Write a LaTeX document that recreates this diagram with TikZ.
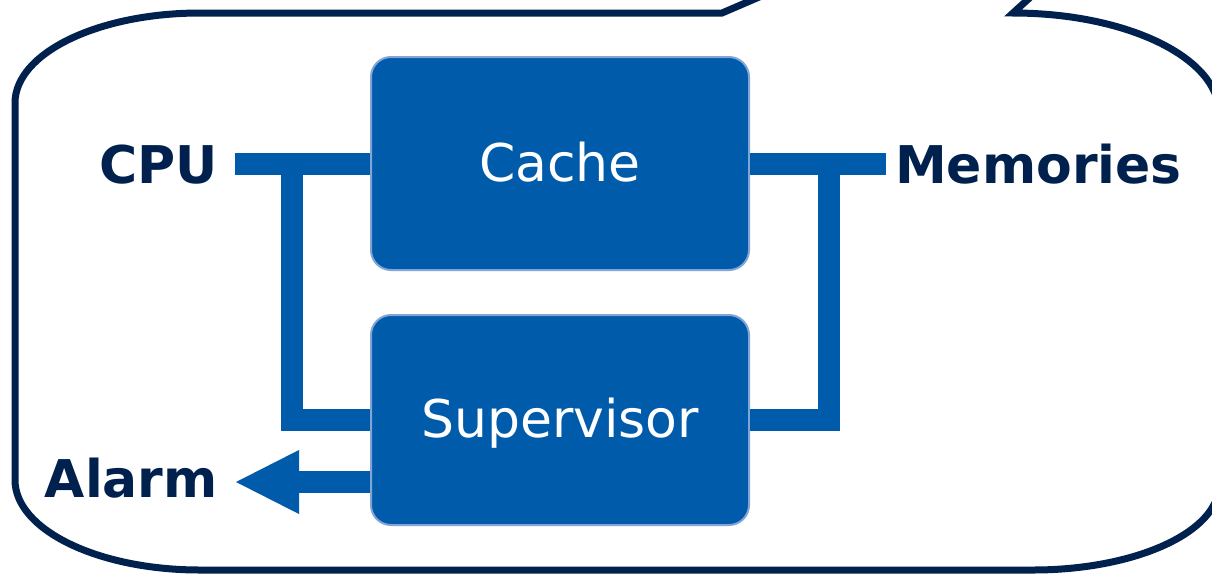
\documentclass[tikz,border=0pt]{standalone}
\usepackage{fontspec}
\setmainfont{DejaVu Sans}
\usetikzlibrary{arrows.meta}
\definecolor{navy}{RGB}{0,33,78}
\definecolor{boxblue}{RGB}{0,91,170}
\definecolor{boxedge}{RGB}{130,165,215}
\tikzset{
  callout/.style={draw=navy, line width=7pt, fill=white, line join=miter},
  block/.style={fill=boxblue, draw=boxedge, line width=2pt, rounded corners=20pt,
    minimum width=378pt, inner sep=0pt, text=white,
    font=\fontsize{52}{62}\selectfont, text height=37pt, text depth=2pt},
  label/.style={text=navy, inner sep=0pt, font=\bfseries\fontsize{52}{62}\selectfont},
  bus/.style={draw=boxblue, line width=22pt, line join=miter},
}
\begin{document}
\begin{tikzpicture}[x=1pt,y=-1pt]
\useasboundingbox (0,0) rectangle (1212,574);
\clip (0,0) rectangle (1212,574);
\fill[white] (0,0) rectangle (1212,574);
% callout outline
\draw[callout] (200,13) -- (722,13) -- (1273,-224) -- (1013,13)
  .. controls (1126.8,13) and (1219,57.8) .. (1219,113)
  -- (1219,485)
  .. controls (1219,531.9) and (1135.7,570) .. (1033,570)
  -- (200,570)
  .. controls (97.8,570) and (15,529.7) .. (15,480)
  -- (15,103)
  .. controls (15,53.3) and (97.8,13) .. (200,13) -- cycle;
% blocks
\node[block, minimum height=213pt] (cache) at (560,163.5) {Cache};
\node[block, minimum height=210pt] (sup) at (560,420) {Supervisor};
% labels
\node[label, anchor=base east] (cpu) at (218,183) {CPU};
\node[label, anchor=base west] (mem) at (895,183) {Memories};
\node[label, anchor=base east] (alarm) at (218,497) {Alarm};
% bus coordinates
\coordinate (cpuend) at (235,164);
\coordinate (ljunc) at (292,164);
\coordinate (memend) at (886,164);
\coordinate (rjunc) at (829,164);
\coordinate (alarmtip) at (236,482);
% buses
\draw[bus] (cpuend) -- (cache.west |- cpuend);
\draw[bus] (ljunc) -- (ljunc |- sup.west) -- (sup.west);
\draw[bus] (cache.east |- memend) -- (memend);
\draw[bus] (rjunc) -- (rjunc |- sup.east) -- (sup.east);
\draw[bus, -{Triangle[length=63pt,width=64pt,line width=0pt]}] (sup.west |- alarmtip) -- (alarmtip);
\end{tikzpicture}
\end{document}
